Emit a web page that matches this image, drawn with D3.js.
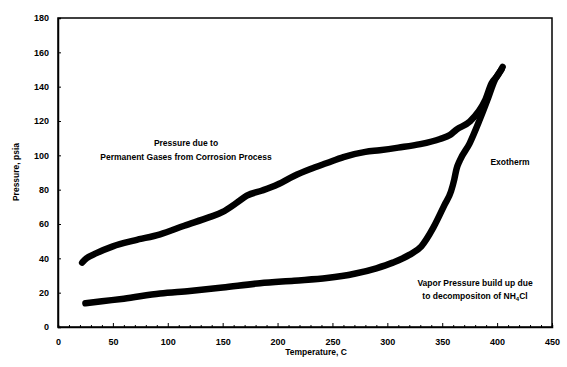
<!DOCTYPE html>
<html>
<head>
<meta charset="utf-8">
<script src="https://cdn.jsdelivr.net/npm/d3@7"></script>
<style>
  body { margin: 0; background: #fff; }
  svg text { font-family: "Liberation Sans", Arial, sans-serif; fill: #000; }
</style>
</head>
<body>
<div id="chart"></div>
<script>
// temperature (C) vs pressure (psia)
const gasTemp = [22, 26, 35, 50, 70, 93, 115, 138, 150, 162, 172, 186, 200, 215, 230, 245, 260, 280, 293, 310, 330, 348, 357, 363, 375, 389, 395, 401, 405];
const gasPressure = [37.5, 40, 43, 47, 50.5, 54, 59, 64, 67, 72, 76.5, 79.5, 83, 88, 92, 95.5, 99, 102, 103, 104.5, 106.5, 109.5, 111.8, 115, 119.6, 132, 142, 147, 151.5];

const vaporTemp = [25, 40, 60, 93, 120, 150, 184, 215, 245, 270, 290, 305, 320, 331, 342, 352, 358, 361, 363, 366, 375, 384, 391, 398, 404];
const vaporPressure = [13.8, 15, 16.5, 19.5, 21, 23, 25.5, 27, 28.5, 31, 34.2, 37.5, 42, 47, 58, 71, 79, 86, 92, 97, 107, 120.5, 132, 144, 150];

const xTicks = [0, 50, 100, 150, 200, 250, 300, 350, 400, 450];
const yTicks = [0, 20, 40, 60, 80, 100, 120, 140, 160, 180];

const W = 567, H = 367;
const margin = { top: 18, right: 15, bottom: 40, left: 58 };
const width = W - margin.left - margin.right;
const height = H - margin.top - margin.bottom;

const svg = d3.select("#chart").append("svg").attr("width", W).attr("height", H);
const g = svg.append("g").attr("transform", `translate(${margin.left},${margin.top})`);

const x = d3.scaleLinear().domain([0, 450]).range([0, width]);
const y = d3.scaleLinear().domain([0, 180]).range([height, 0]);

// frame
g.append("rect").attr("width", width).attr("height", height)
  .attr("fill", "none").attr("stroke", "#000").attr("stroke-width", 1.5);

// axes (ticks point inward)
const xAxis = g.append("g").attr("transform", `translate(0,${height})`)
  .call(d3.axisBottom(x).tickValues(d3.range(0, 451, 10)).tickSize(-2).tickFormat(d => xTicks.includes(d) ? d : ""));
xAxis.selectAll(".tick line").attr("stroke-width", 1);
xAxis.selectAll(".tick").filter(d => xTicks.includes(d)).select("line").attr("y2", -4);
xAxis.selectAll("text").attr("y", 12).attr("font-size", 9).attr("font-weight", "bold");

const yAxis = g.append("g")
  .call(d3.axisLeft(y).tickValues(yTicks).tickSize(-3));
yAxis.selectAll("text").attr("x", -9).attr("font-size", 9).attr("font-weight", "bold");

g.selectAll(".domain").attr("stroke-width", 1.5);

// curves
const line = d3.line().x(d => x(d[0])).y(d => y(d[1])).curve(d3.curveMonotoneX);
[[gasTemp, gasPressure], [vaporTemp, vaporPressure]].forEach(([t, p]) => {
  g.append("path")
    .datum(t.map((v, i) => [v, p[i]]))
    .attr("d", line)
    .attr("fill", "none").attr("stroke", "#000")
    .attr("stroke-width", 6.5).attr("stroke-linecap", "round").attr("stroke-linejoin", "round");
});

// axis titles
svg.append("text").attr("x", 316).attr("y", 355).attr("text-anchor", "middle")
  .attr("font-size", 8.5).attr("font-weight", "bold").text("Temperature, C");
svg.append("text").attr("transform", "translate(19,172) rotate(-90)").attr("text-anchor", "middle")
  .attr("font-size", 8.5).attr("font-weight", "bold").text("Pressure, psia");

// annotations
const note = (lines, cx, cy) => {
  const t = svg.append("text").attr("text-anchor", "middle").attr("font-size", 8.5).attr("font-weight", "bold");
  lines.forEach((s, i) => t.append("tspan").attr("x", cx).attr("y", cy + i * 13.5).text(s));
  return t;
};
note(["Pressure due to", "Permanent Gases from Corrosion Process"], 186, 146);
note(["Exotherm"], 510, 165);
const v = note(["Vapor Pressure build up due", ""], 475, 286);
const t2 = v.select("tspan:nth-child(2)");
t2.attr("y", 299).text("to decompositon of NH");
t2.append("tspan").attr("font-size", 6).attr("dy", 2).text("4");
t2.append("tspan").attr("dy", -2).text("Cl");
</script>
</body>
</html>
